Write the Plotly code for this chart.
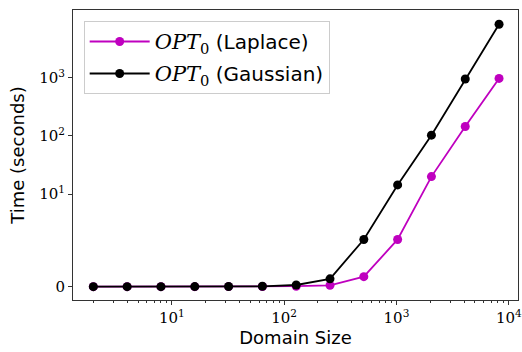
import numpy as np
import plotly.graph_objects as go

# ---- data ----
domain_sizes = [2, 4, 8, 16, 32, 64, 128, 256, 512, 1024, 2048, 4096, 8192]
laplace_times = [0.001, 0.001, 0.002, 0.004, 0.008, 0.02, 0.05, 0.15, 1.08, 5.1, 20.0, 145.0, 973.0]
gaussian_times = [0.001, 0.002, 0.004, 0.008, 0.015, 0.04, 0.18, 0.85, 5.1, 14.4, 103.0, 950.0, 8300.0]
y_tick_values = [0, 10, 100, 1000]
y_tick_labels = ["0", "10<sup>1</sup>", "10<sup>2</sup>", "10<sup>3</sup>"]
x_tick_values = [10, 100, 1000, 10000]
x_tick_labels = ["10<sup>1</sup>", "10<sup>2</sup>", "10<sup>3</sup>", "10<sup>4</sup>"]

# symmetric-log style y scale (linear below threshold, log above)
LINTHRESH = 10.0
LINSPAN = 1.59  # decades occupied by the linear part


def symlog(v):
    v = np.asarray(v, dtype=float)
    return np.where(v <= LINTHRESH, v / LINTHRESH * LINSPAN,
                    LINSPAN + np.log10(np.maximum(v, LINTHRESH) / LINTHRESH))


minor_x = [m * 10 ** e for e in range(0, 5) for m in range(2, 10)]

SERIF = "DejaVu Serif"
SANS = "DejaVu Sans"
MAG = "#bf00bf"
OPT = '<span style="font-family:DejaVu Serif;font-size:21px"><i>OPT</i><sub>0</sub></span>'

fig = go.Figure()
fig.add_trace(go.Scatter(
    x=domain_sizes, y=symlog(laplace_times), mode="lines+markers",
    line=dict(color=MAG, width=1.8), marker=dict(color=MAG, size=9),
    legendgroup="a", name=OPT + " (Laplace)"))
fig.add_trace(go.Scatter(
    x=domain_sizes, y=symlog(gaussian_times), mode="lines+markers",
    line=dict(color="black", width=1.8), marker=dict(color="black", size=9),
    legendgroup="b", name=OPT + " (Gaussian)"))

fig.update_layout(
    width=522, height=352,
    margin=dict(l=73, r=4, t=10, b=52),
    paper_bgcolor="white", plot_bgcolor="white",
    font=dict(family=SANS, color="black"),
    legend=dict(x=0.024, y=0.962, xanchor="left", yanchor="top",
                bgcolor="rgba(255,255,255,0.85)", bordercolor="#cccccc", borderwidth=1,
                font=dict(family=SANS, size=20), itemwidth=60,
                tracegroupgap=3),
    xaxis=dict(type="log", range=[0.12, 4.082], automargin=False,
               tickmode="array", tickvals=x_tick_values, ticktext=x_tick_labels,
               tickfont=dict(family=SERIF, size=15),
               ticks="outside", ticklen=4, tickcolor="#333",
               minor=dict(tickmode="array", tickvals=minor_x, ticks="outside",
                          ticklen=2, tickcolor="#333"),
               showgrid=False, zeroline=False,
               showline=True, mirror=True, linecolor="#333", linewidth=1,
               title=dict(text="Domain Size", font=dict(family=SANS, size=18), standoff=4)),
    yaxis=dict(range=[-0.229, 4.754], automargin=False,
               tickmode="array", tickvals=list(symlog(y_tick_values)), ticktext=y_tick_labels,
               tickfont=dict(family=SERIF, size=15),
               ticks="outside", ticklen=4, tickcolor="#333",
               showgrid=False, zeroline=False,
               showline=True, mirror=True, linecolor="#333", linewidth=1,
               title=dict(text="Time (seconds)", font=dict(family=SANS, size=18), standoff=9)),
)

fig.write_html("out.html", config={"displayModeBar": False},
               post_script="document.body.style.margin='0px';document.body.style.overflow='hidden';")
